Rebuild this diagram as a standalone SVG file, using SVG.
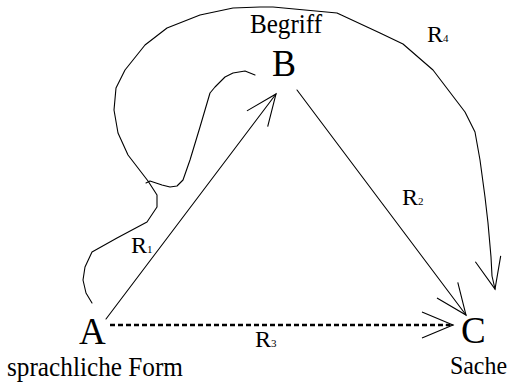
<svg xmlns="http://www.w3.org/2000/svg" width="511" height="383" viewBox="0 0 511 383">
  <defs>
    <style>
      text { font-family: "Liberation Serif", "Times New Roman", "DejaVu Serif", serif; fill: #000; }
      .big { font-size: 37px; }
      .lbl { font-size: 27px; }
      .r { font-size: 24px; }
      .sub { font-size: 11px; }
      .ln { fill: none; stroke: #000; stroke-width: 1.1; stroke-linejoin: round; stroke-linecap: round; }
      .dash { fill: none; stroke: #000; stroke-width: 2.6; stroke-dasharray: 5 3; }
    </style>
    <marker id="open" markerUnits="userSpaceOnUse" markerWidth="40" markerHeight="40" viewBox="-36 -18 40 36" refX="0" refY="0" orient="auto">
      <path d="M -31 -13 L 0 0 L -31 13" fill="none" stroke="#000" stroke-width="1.1"/>
    </marker>
  </defs>
  <rect width="511" height="383" fill="#fff"/>

  <g id="connectors">
    <path class="ln" d="M 106 319 L 276 94" marker-end="url(#open)"/>
    <path class="ln" d="M 297 90 L 466 315" marker-end="url(#open)"/>
    <path class="dash" d="M 110 325 L 450 325"/>
    <path class="ln" d="M 446 325 L 453 325" marker-end="url(#open)"/>
    <path class="ln" d="M 92 303 L 86 293 L 83 280 L 85 267 L 92 252 L 117 238 L 147 222 L 157 207 L 157 195 L 148 181 L 128 155 L 118 133 L 114 110 L 116 88 L 125 70 L 145 45 L 167 28 L 200 15 L 233 8 L 260 7 L 273 7 L 337 13 L 380 33 L 403 44 L 433 70 L 465 112 L 475 132 L 480 160 L 485 197 L 488 223 L 491 257 L 492 276 L 495 289" marker-end="url(#open)"/>
    <path class="ln" d="M 146 183 L 150 181 L 162 185 L 170 187 L 177 186 L 183 180 L 190 160 L 200 127 L 210 93 L 215 87 L 225 77 L 233 73 L 245 71 L 255 75"/>
    <text class="r" x="131" y="253">R<tspan class="sub">1</tspan></text>
    <text class="r" x="402" y="205">R<tspan class="sub">2</tspan></text>
    <text class="r" x="255" y="347">R<tspan class="sub">3</tspan></text>
    <text class="r" x="427" y="42">R<tspan class="sub">4</tspan></text>
  </g>

  <g id="node-A">
    <text class="big" x="79" y="344">A</text>
    <text class="lbl" x="7" y="376" textLength="176" lengthAdjust="spacingAndGlyphs">sprachliche Form</text>
  </g>
  <g id="node-B">
    <text class="lbl" x="250" y="33" textLength="72" lengthAdjust="spacingAndGlyphs">Begriff</text>
    <text class="big" x="272" y="76" textLength="24" lengthAdjust="spacingAndGlyphs">B</text>
  </g>
  <g id="node-C">
    <text class="big" x="461" y="343">C</text>
    <text class="lbl" x="450" y="374" style="font-size:25px" textLength="57" lengthAdjust="spacingAndGlyphs">Sache</text>
  </g>
</svg>
